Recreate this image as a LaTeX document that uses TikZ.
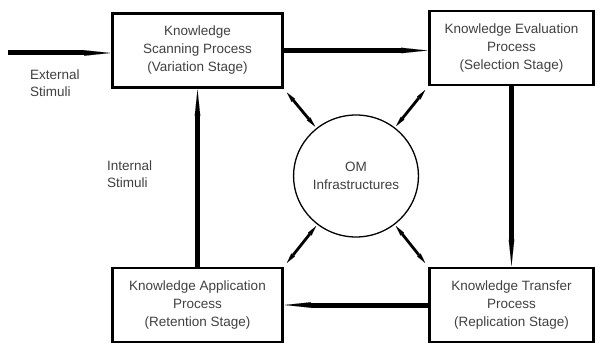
\documentclass[tikz,border=0pt]{standalone}
\usepackage{fontspec}
\setmainfont{Liberation Sans}
\usetikzlibrary{arrows.meta,shapes.geometric}
\begin{document}
\begin{tikzpicture}[x=1pt, y=-1pt,
      caja/.style={draw=black, line width=2.6pt, minimum width=170pt, minimum height=74pt, inner sep=2pt, align=center, font=\fontsize{13.5}{18}\selectfont, text=black!75},
      nucleo/.style={draw=black, line width=1.3pt, ellipse, minimum width=102pt, minimum height=122pt, inner sep=1pt, align=center, font=\fontsize{13.5}{18}\selectfont, text=black!75},
      flecha/.style={line width=5pt, -{Triangle[length=26pt,width=5.5pt,line width=0.01pt]}, shorten >=1pt},
      diag/.style={line width=2.8pt, {Triangle[length=10pt,width=4.5pt,line width=0.01pt]}-{Triangle[length=10pt,width=4.5pt,line width=0.01pt]}, shorten <=5pt, shorten >=2pt},
      etiqueta/.style={font=\fontsize{13.5}{17}\selectfont, align=left, text=black!75, anchor=west, inner sep=0pt}
    ]
    \useasboundingbox (0,0) rectangle (596,344);

    % --- procesos ---
    \node[caja] (scan) at (197.5,50.5) {Knowledge\\Scanning Process\\(Variation Stage)};
    \node[caja, minimum width=164pt] (eval) at (511.5,48) {Knowledge Evaluation\\Process\\(Selection Stage)};
    \node[caja] (app) at (197.5,305) {Knowledge Application\\Process\\(Retention Stage)};
    \node[caja, minimum width=164pt] (trans) at (511.5,305) {Knowledge Transfer\\Process\\(Replication Stage)};

    % --- infraestructuras ---
    \node[nucleo] (om) at (356,176) {OM\\Infrastructures};

    % --- estimulos ---
    \coordinate (ext) at (8,53);
    \node[etiqueta] (extlbl) at (30,83) {External\\Stimuli};
    \node[etiqueta] (intlbl) at (107,174) {Internal\\Stimuli};

    % --- ciclo ---
    \draw[flecha] (ext) -- (ext -| scan.west);
    \draw[flecha] (scan.east) -- (scan.east -| eval.west);
    \draw[flecha] (eval.south) -- (trans.north);
    \draw[flecha] (trans.west) -- (trans.west -| app.east);
    \draw[flecha] (app.north) -- (scan.south);

    % --- enlaces con OM ---
    \draw[diag] (scan.south east) -- (om);
    \draw[diag] (eval.south west) -- (om);
    \draw[diag] (app.north east) -- (om);
    \draw[diag] (trans.north west) -- (om);
  \end{tikzpicture}
\end{document}
